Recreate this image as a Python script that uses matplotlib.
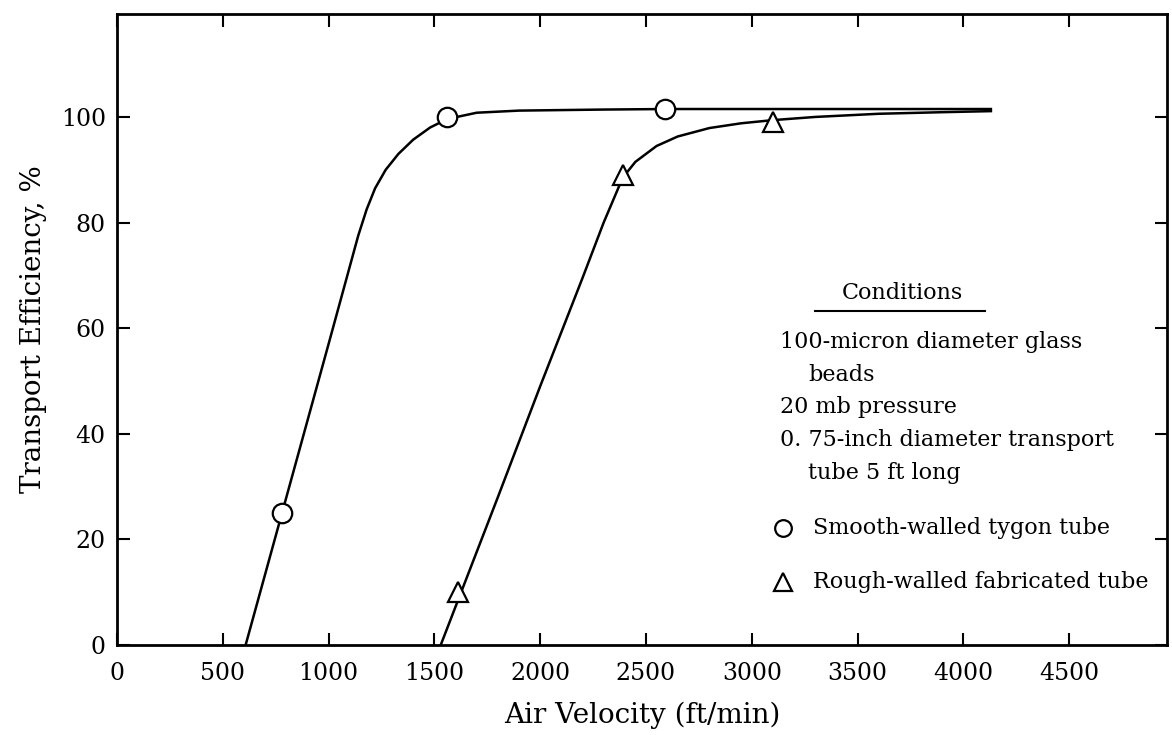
import matplotlib
matplotlib.use("Agg")
import matplotlib.pyplot as plt

# measured points
smooth_x = [780, 1560, 2590]
smooth_y = [25, 100, 101.5]
rough_x = [1610, 2390, 3100]
rough_y = [10, 89, 99]

# hand-drawn fitted curves
smooth_curve_x = [608, 780, 1000, 1140, 1180, 1220, 1270, 1330, 1400, 1480,
                  1560, 1700, 1900, 2300, 2600, 3200, 4130]
smooth_curve_y = [0, 25, 57, 77.5, 82.5, 86.5, 90, 93, 95.7, 98,
                  99.6, 100.8, 101.2, 101.4, 101.5, 101.5, 101.5]
rough_curve_x = [1530, 1610, 1800, 2000, 2200, 2300, 2390, 2450, 2550, 2650,
                 2800, 2950, 3100, 3300, 3600, 3900, 4130]
rough_curve_y = [0, 8.3, 28, 49, 69.5, 80, 88.5, 91.5, 94.5, 96.3,
                 97.9, 98.8, 99.4, 100.0, 100.6, 100.9, 101.1]

x_ticks = [0, 500, 1000, 1500, 2000, 2500, 3000, 3500, 4000, 4500]
y_ticks = [0, 20, 40, 60, 80, 100]

conditions = [
    ("100-micron diameter glass", 0),
    ("beads", 1),
    ("20 mb pressure", 0),
    ("0. 75-inch diameter transport", 0),
    ("tube 5 ft long", 1),
]

plt.rcParams['font.family'] = ['DejaVu Serif']

fig = plt.figure(figsize=(11.72, 7.35), dpi=100)
ax = fig.add_axes([0.0998, 0.1224, 0.8959, 0.8586])

# curves first, then hollow markers on top
ax.plot(smooth_curve_x, smooth_curve_y, color='black', lw=1.8, zorder=2)
ax.plot(rough_curve_x, rough_curve_y, color='black', lw=1.8, zorder=2)
ax.plot(smooth_x, smooth_y, 'o', ms=14, mfc='white', mec='black', mew=1.6,
        zorder=3, clip_on=False)
ax.plot(rough_x, rough_y, '^', ms=15, mfc='white', mec='black', mew=1.6,
        zorder=3, clip_on=False)

ax.set_xlim(0, 4962)
ax.set_ylim(0, 119.5)
ax.set_xticks(x_ticks)
ax.set_yticks(y_ticks)

for s in ax.spines.values():
    s.set_linewidth(2)

ax.tick_params(direction='in', length=9, width=1.5, labelsize=17,
               top=True, right=True)
ax.tick_params(axis='x', pad=12)
ax.tick_params(axis='y', pad=8)

ax.set_xlabel("Air Velocity (ft/min)", fontsize=20, labelpad=12)
ax.set_ylabel("Transport Efficiency, %", fontsize=20, labelpad=10)

# conditions block
tx, tx_ind = 3133, 3266
ax.text(3710, 66.7, "Conditions", fontsize=16, ha='center', va='center')
ax.plot([3300, 4100], [63.3, 63.3], color='black', lw=1.5)
yy = 57.4
for line, indent in conditions:
    ax.text(tx_ind if indent else tx, yy, line, fontsize=16, va='center')
    yy -= 6.2

ax.plot([3147], [22.2], 'o', ms=12, mfc='white', mec='black', mew=1.6)
ax.text(3289, 22.2, "Smooth-walled tygon tube", fontsize=16, va='center')
ax.plot([3147], [11.9], '^', ms=13, mfc='white', mec='black', mew=1.6)
ax.text(3289, 11.9, "Rough-walled fabricated tube", fontsize=16, va='center')

fig.savefig("out.png", dpi=100)
